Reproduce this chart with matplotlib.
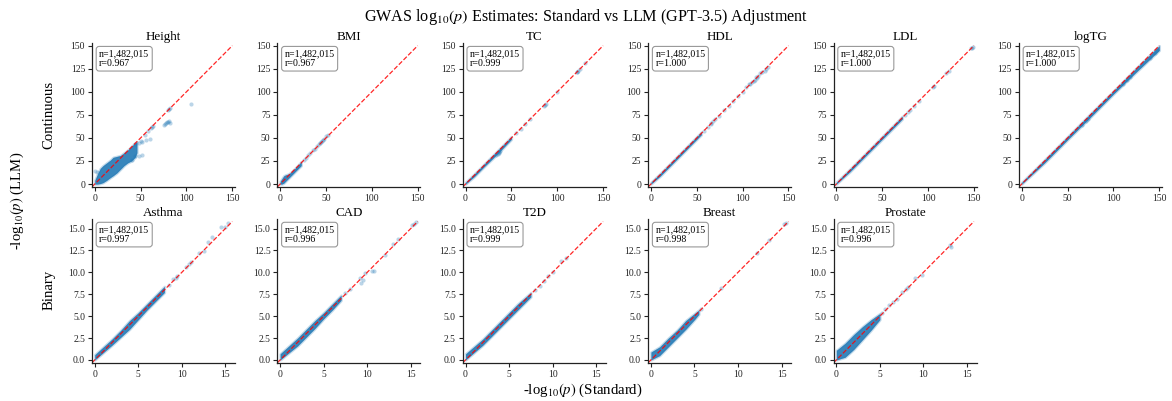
import matplotlib
matplotlib.use("Agg")
import matplotlib.pyplot as plt
import numpy as np
from matplotlib.ticker import MultipleLocator

plt.rcParams['font.family'] = 'serif'
plt.rcParams['font.serif'] = ['Liberation Serif', 'DejaVu Serif']
plt.rcParams['mathtext.fontset'] = 'stix'

# traits, one panel each
cont_traits = ['Height', 'BMI', 'TC', 'HDL', 'LDL', 'logTG']
bin_traits = ['Asthma', 'CAD', 'T2D', 'Breast', 'Prostate']
cont_r = [0.967, 0.967, 0.999, 1.000, 1.000, 1.000]
bin_r = [0.997, 0.996, 0.999, 0.998, 0.996]
n_snps = 1482015
cont_max = 150.0
bin_max = 15.8

# dense region of each cloud: (standard, llm_low, llm_high)
height_band = [(0, 0, 4), (3, 0, 11), (6, 0.5, 17), (9, 1.5, 20), (13, 4, 23), (17, 7, 26),
               (20, 9, 29), (24, 12, 30), (28, 16, 31), (32, 20, 34), (36, 23, 37),
               (40, 25, 41), (44, 29, 44.5), (46, 34, 46)]
bmi_band = [(0, 0, 3), (2, 0, 6), (4, 1, 9), (6, 3, 10), (9, 6, 11), (12, 9, 13),
            (15, 12, 16), (19, 16, 20), (23, 20, 24.5)]
tc_band = [(0, 0, 2), (10, 8.5, 11.5), (20, 18.5, 21.5), (30, 28, 31.5), (40, 38, 41.5),
           (50, 48.5, 51.5)]
hdl_band = [(0, 0, 2), (10, 8.5, 11.5), (25, 23.5, 26.5), (40, 38.5, 41.5), (55, 53.5, 56.5)]
ldl_band = [(0, 0, 2), (15, 13.5, 16.5), (30, 28.5, 31.5), (45, 43.5, 46.5), (60, 58.5, 61.5),
            (72, 70.5, 73.5)]
logtg_band = [(0, 0, 2), (25, 23, 26.5), (50, 48, 51.5), (75, 72.5, 76.5), (100, 97.5, 101),
              (125, 121.5, 126), (150, 145, 150)]
asthma_band = [(0, 0, 0.6), (2, 1.7, 2.4), (3, 2.6, 3.4), (4, 3.5, 4.5), (5, 4.6, 5.4),
               (6, 5.7, 6.4), (7, 6.7, 7.4), (8, 7.7, 8.4)]
cad_band = [(0, 0, 0.7), (2, 1.6, 2.5), (4, 3.6, 4.5), (5, 4.7, 5.4), (6, 5.7, 6.4),
            (7, 6.8, 7.4)]
t2d_band = [(0, 0, 0.7), (2, 1.7, 2.4), (4, 3.7, 4.4), (6, 5.7, 6.4), (7.5, 7.2, 7.7)]
breast_band = [(0, 0, 0.9), (1, 0.5, 1.5), (2, 1.5, 2.5), (3, 2.5, 3.4), (4, 3.5, 4.5),
               (5, 4.6, 5.3), (5.5, 5.2, 5.7)]
prostate_band = [(0, 0, 1.1), (1, 0.3, 1.9), (2, 1.2, 2.9), (3, 2.3, 3.8), (4, 3.4, 4.6),
                 (5, 4.6, 5.3)]

# sparser SNPs outside the dense region: (standard, llm)
height_pts = [(0.5, 14), (2, 13), (41, 26), (44, 30), (48, 30), (52, 32), (44, 43), (48, 44),
              (52, 46), (56, 48), (60, 49), (50, 47), (55, 53), (58, 57), (61, 61), (62, 62),
              (63, 63), (75, 64), (77, 65), (78, 66), (79, 67), (80, 67), (81, 68), (82, 66),
              (80, 80), (81, 81), (82, 82), (105, 87)]
bmi_pts = [(26, 26), (28, 28), (30, 31), (33, 34), (36, 37), (38, 38), (40, 41), (42, 43),
           (44, 45), (45, 46), (46, 47), (47, 48), (48, 49), (50, 52), (52, 53)]
tc_pts = [(33, 32), (35, 33), (36, 34), (37, 35), (38, 36), (55, 55), (60, 60), (65, 65),
          (70, 70), (86, 85), (87, 86), (88, 87), (100, 100), (121, 121), (122, 122),
          (123, 123), (125, 125), (130, 131)]
hdl_pts = [(58, 58), (62, 62), (65, 65), (66, 66), (68, 68), (70, 70), (74, 74), (80, 80),
           (85, 85), (90, 90), (95, 95), (100, 100), (104, 105), (107, 109), (108, 108),
           (110, 111), (112, 112), (113, 113), (115, 116), (116, 115), (117, 117),
           (119, 120), (121, 121), (124, 123), (126, 125), (128, 127)]
ldl_pts = [(75, 75), (78, 78), (80, 80), (85, 85), (90, 90), (105, 105), (106, 106),
           (120, 120), (123, 123), (147, 147), (148, 148), (149, 149)]
logtg_pts = [(66, 64), (70, 68), (72, 70), (110, 108), (115, 113), (118, 116), (140, 137),
             (145, 142), (148, 145)]
asthma_pts = [(8.5, 8.6), (9.0, 9.2), (9.3, 9.4), (9.5, 9.6), (10.5, 10.6), (10.8, 11.0),
              (11.0, 11.2), (12.0, 12.2), (12.5, 12.4), (13.0, 13.5), (13.5, 14.0),
              (14.5, 15.2), (15.0, 15.2), (15.3, 15.6)]
cad_pts = [(7.5, 7.6), (8.0, 8.1), (9.2, 9.3), (9.3, 8.8), (9.5, 9.1), (9.8, 9.9),
           (10.5, 10.2), (10.8, 10.1), (12.0, 12.0), (13.0, 13.2), (13.5, 13.8),
           (15.2, 15.4), (15.4, 15.5), (15.6, 15.7)]
t2d_pts = [(8.0, 8.0), (8.5, 8.4), (9.0, 9.0), (9.5, 9.6), (10.0, 10.0), (11.0, 11.3),
           (11.5, 11.6)]
breast_pts = [(5.8, 5.8), (8.0, 8.2), (12.2, 12.2), (13.6, 13.7), (15.3, 15.5), (15.5, 15.6)]
prostate_pts = [(5.3, 5.4), (5.6, 5.8), (6.0, 6.3), (6.5, 6.6), (7.0, 7.0), (7.5, 7.7),
                (8.0, 8.1), (8.2, 8.3), (9.0, 9.3), (9.8, 9.7), (13.0, 13.1), (13.2, 12.9)]

cont_bands = [height_band, bmi_band, tc_band, hdl_band, ldl_band, logtg_band]
cont_pts = [height_pts, bmi_pts, tc_pts, hdl_pts, ldl_pts, logtg_pts]
bin_bands = [asthma_band, cad_band, t2d_band, breast_band, prostate_band]
bin_pts = [asthma_pts, cad_pts, t2d_pts, breast_pts, prostate_pts]

blue = '#1f77b4'

fig, axes = plt.subplots(2, 6, figsize=(11.72, 4.01), dpi=100)
fig.subplots_adjust(left=0.0785, right=0.9915, top=0.893, bottom=0.0955,
                    wspace=0.296, hspace=0.222)


def draw_panel(ax, title, band, pts, r, m, ystep, xstep):
    band = np.array(band, dtype=float)
    pts = np.array(pts, dtype=float)
    # soft halo then solid core of the dense cloud
    ax.fill_between(band[:, 0], band[:, 1], band[:, 2], color=blue, alpha=0.25,
                    lw=1.8, edgecolor=blue)
    ax.fill_between(band[:, 0], band[:, 1], band[:, 2], color=blue, alpha=0.85, lw=0)
    ax.scatter(pts[:, 0], pts[:, 1], s=9, color=blue, alpha=0.3, lw=0)
    lo, hi = -0.02 * m, 1.02 * m
    ax.plot([lo, m], [lo, m], color='red', ls='--', lw=0.9, alpha=0.85)
    ax.set_xlim(lo, hi)
    ax.set_ylim(lo, hi)
    ax.xaxis.set_major_locator(MultipleLocator(xstep))
    ax.yaxis.set_major_locator(MultipleLocator(ystep))
    if ystep < 5:
        ax.yaxis.set_major_formatter(plt.FormatStrFormatter('%.1f'))
    ax.set_title(title, fontsize=9.4, pad=2)
    ax.text(0.05, 0.955, f'n={n_snps:,}\nr={r:.3f}', transform=ax.transAxes,
            fontsize=7.1, va='top', ha='left', linespacing=1.1,
            bbox=dict(boxstyle='round,pad=0.3', fc='white', ec='#999999', lw=0.8))
    for s in ['top', 'right']:
        ax.spines[s].set_visible(False)
    for s in ['left', 'bottom']:
        ax.spines[s].set_linewidth(0.9)
        ax.spines[s].set_color('#222222')
    ax.tick_params(labelsize=6.9, length=3, width=0.8, pad=2, colors='#222222')


for i, t in enumerate(cont_traits):
    draw_panel(axes[0, i], t, cont_bands[i], cont_pts[i], cont_r[i], cont_max, 25, 50)
for i, t in enumerate(bin_traits):
    draw_panel(axes[1, i], t, bin_bands[i], bin_pts[i], bin_r[i], bin_max, 2.5, 5)
axes[1, 5].axis('off')

fig.text(0.5, 0.957, r'GWAS log$_{10}(p)$ Estimates: Standard vs LLM (GPT-3.5) Adjustment',
         ha='center', va='center', fontsize=11.6)
fig.text(0.497, 0.027, r'-log$_{10}(p)$ (Standard)', ha='center', va='center', fontsize=10.6)
fig.text(0.015, 0.5, r'-log$_{10}(p)$ (LLM)', ha='center', va='center', rotation=90,
         fontsize=10.6)
fig.text(0.042, 0.713, 'Continuous', ha='center', va='center', rotation=90, fontsize=10.6)
fig.text(0.042, 0.278, 'Binary', ha='center', va='center', rotation=90, fontsize=10.6)

fig.savefig('out.png', dpi=100)
